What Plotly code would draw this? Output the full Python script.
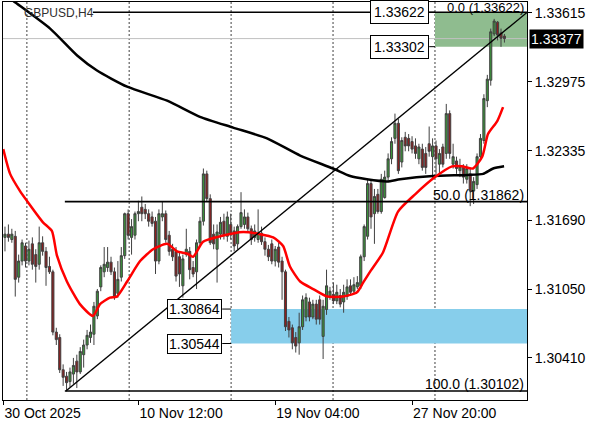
import plotly.graph_objects as go

# ---------------- data ----------------
bars = list(range(147))

opens = [1.3153,1.3156,1.3151,1.3154,1.3116,1.3131,1.3145,1.3131,1.3147,1.3137,
         1.3128,1.3148,1.3140,1.3126,1.3121,1.3065,1.3060,1.3030,1.3024,1.3019,
         1.3026,1.3038,1.3028,1.3044,1.3053,1.3060,1.3063,1.3080,1.3107,1.3121,
         1.3125,1.3130,1.3121,1.3101,1.3116,1.3136,1.3175,1.3153,1.3155,1.3175,
         1.3181,1.3179,1.3175,1.3172,1.3168,1.3131,1.3172,1.3175,1.3155,1.3142,
         1.3140,1.3135,1.3108,1.3137,1.3140,1.3125,1.3121,1.3148,1.3168,1.3212,
         1.3189,1.3156,1.3142,1.3156,1.3168,1.3154,1.3165,1.3159,1.3147,1.3163,
         1.3165,1.3172,1.3161,1.3153,1.3151,1.3157,1.3149,1.3142,1.3147,1.3131,
         1.3144,1.3131,1.3121,1.3075,1.3069,1.3060,1.3055,1.3070,1.3079,1.3093,
         1.3079,1.3091,1.3095,1.3061,1.3086,1.3098,1.3100,1.3094,1.3099,1.3093,
         1.3098,1.3108,1.3103,1.3107,1.3108,1.3135,1.3154,1.3203,1.3175,1.3193,
         1.3177,1.3190,1.3209,1.3226,1.3245,1.3259,1.3223,1.3246,1.3245,1.3242,
         1.3238,1.3226,1.3235,1.3231,1.3240,1.3228,1.3238,1.3221,1.3237,1.3231,
         1.3268,1.3221,1.3224,1.3215,1.3218,1.3207,1.3212,1.3196,1.3202,1.3228,
         1.3243,1.3280,1.3299,1.3342,1.3353,1.3343,1.3340]

highs = [1.3163,1.3165,1.3161,1.3159,1.3137,1.3151,1.3148,1.3150,1.3153,1.3142,
         1.3163,1.3154,1.3144,1.3135,1.3123,1.3069,1.3063,1.3035,1.3028,1.3032,
         1.3041,1.3044,1.3051,1.3058,1.3067,1.3072,1.3093,1.3105,1.3127,1.3144,
         1.3144,1.3135,1.3125,1.3131,1.3144,1.3176,1.3179,1.3170,1.3177,1.3187,
         1.3191,1.3184,1.3179,1.3177,1.3172,1.3179,1.3186,1.3178,1.3159,1.3147,
         1.3144,1.3140,1.3137,1.3161,1.3144,1.3131,1.3151,1.3172,1.3217,1.3215,
         1.3193,1.3165,1.3165,1.3172,1.3175,1.3177,1.3175,1.3163,1.3165,1.3195,
         1.3179,1.3176,1.3164,1.3165,1.3179,1.3163,1.3153,1.3146,1.3151,1.3145,
         1.3148,1.3135,1.3123,1.3079,1.3072,1.3065,1.3083,1.3099,1.3101,1.3097,
         1.3095,1.3095,1.3099,1.3095,1.3123,1.3107,1.3111,1.3109,1.3105,1.3109,
         1.3114,1.3114,1.3116,1.3117,1.3137,1.3165,1.3207,1.3207,1.3198,1.3198,
         1.3212,1.3215,1.3231,1.3246,1.3268,1.3263,1.3246,1.3251,1.3249,1.3247,
         1.3245,1.3240,1.3240,1.3237,1.3256,1.3245,1.3243,1.3235,1.3240,1.3277,
         1.3271,1.3240,1.3228,1.3226,1.3221,1.3221,1.3217,1.3209,1.3231,1.3249,
         1.3286,1.3304,1.3347,1.3356,1.3354,1.3347,1.3342]

lows = [1.3140,1.3149,1.3148,1.3098,1.3111,1.3127,1.3125,1.3127,1.3123,1.3111,
        1.3123,1.3136,1.3108,1.3119,1.3062,1.3053,1.3027,1.3015,1.30102,1.3014,
        1.3017,1.3013,1.3026,1.3032,1.3049,1.3055,1.3053,1.3077,1.3103,1.3116,
        1.3121,1.3118,1.3095,1.3097,1.3112,1.3133,1.3151,1.3137,1.3151,1.3168,
        1.3168,1.3170,1.3163,1.3163,1.3119,1.3128,1.3168,1.3148,1.3136,1.3131,
        1.3112,1.3107,1.3097,1.3135,1.3114,1.3116,1.3105,1.3144,1.3164,1.3186,
        1.3146,1.3142,1.3111,1.3151,1.3151,1.3149,1.3151,1.3140,1.3142,1.3161,
        1.3161,1.3158,1.3146,1.3149,1.3148,1.3146,1.3136,1.3131,1.3128,1.3126,
        1.3125,1.3095,1.3066,1.3060,1.3049,1.3046,1.3044,1.3067,1.3075,1.3075,
        1.3077,1.3072,1.3072,1.3040,1.3081,1.3095,1.3091,1.3091,1.3088,1.3083,
        1.3095,1.3099,1.3100,1.3105,1.3105,1.3131,1.3151,1.3161,1.3147,1.3175,
        1.3175,1.3189,1.3205,1.3221,1.3240,1.3212,1.3218,1.3233,1.3233,1.3231,
        1.3226,1.3221,1.3215,1.3212,1.3228,1.3207,1.3212,1.3210,1.3218,1.3226,
        1.3226,1.3217,1.3212,1.3209,1.3203,1.3203,1.3182,1.3184,1.3198,1.3224,
        1.3240,1.3274,1.3294,1.3340,1.3336,1.3330,1.3334]

closes = [1.3156,1.3153,1.3156,1.3114,1.3131,1.3148,1.3131,1.3142,1.3128,1.3126,
          1.3148,1.3140,1.3125,1.3121,1.3065,1.3058,1.3030,1.3023,1.3018,1.3028,
          1.3034,1.3028,1.3047,1.3053,1.3062,1.3065,1.3089,1.3103,1.3125,1.3128,
          1.3130,1.3121,1.3098,1.3114,1.3136,1.3175,1.3155,1.3163,1.3175,1.3177,
          1.3175,1.3175,1.3168,1.3166,1.3131,1.3175,1.3175,1.3151,1.3140,1.3135,
          1.3117,1.3119,1.3133,1.3142,1.3123,1.3119,1.3148,1.3168,1.3212,1.3189,
          1.3148,1.3147,1.3158,1.3167,1.3155,1.3172,1.3156,1.3145,1.3163,1.3176,
          1.3172,1.3161,1.3151,1.3159,1.3157,1.3149,1.3142,1.3135,1.3131,1.3142,
          1.3130,1.3121,1.3070,1.3067,1.3055,1.3052,1.3070,1.3095,1.3097,1.3079,
          1.3091,1.3077,1.3077,1.3089,1.3108,1.3103,1.3094,1.3102,1.3091,1.3102,
          1.3107,1.3102,1.3109,1.3111,1.3135,1.3163,1.3203,1.3172,1.3191,1.3177,
          1.3207,1.3209,1.3226,1.3242,1.3259,1.3215,1.3243,1.3238,1.3238,1.3235,
          1.3231,1.3237,1.3218,1.3218,1.3233,1.3238,1.3226,1.3231,1.3221,1.3268,
          1.3231,1.3228,1.3217,1.3219,1.3209,1.3217,1.3196,1.3205,1.3228,1.3245,
          1.3282,1.3300,1.3344,1.3354,1.3341,1.3338,1.33377]

# red (fast) moving average, read at these bar positions
ma_fast_x = [-0.5, 1.5, 4.4, 6.4, 11.1, 13.7, 15.2, 18.1, 21.9, 25.7, 27.8, 30.7, 32.7,
             35.7, 39.5, 43.3, 47.4, 50.3, 53.2, 55.0, 57.9, 62.9, 69.6, 74.6, 78.4,
             81.3, 83.3, 86.3, 90.1, 94.2, 98.8, 102.9, 104.7, 106.7, 110.5, 114.9,
             119.9, 125.7, 130.7, 133.6, 136.8, 139.5, 141.2, 143.9, 145.6]
ma_fast_y = [1.3235, 1.3212, 1.3196, 1.3187, 1.3167, 1.3159, 1.3136, 1.3112, 1.3091,
             1.3080, 1.3091, 1.3097, 1.3098, 1.3112, 1.3131, 1.3142, 1.3147, 1.3140,
             1.3138, 1.3135, 1.3149, 1.3154, 1.3158, 1.3156, 1.3153, 1.3145, 1.3126,
             1.3112, 1.3105, 1.3098, 1.3098, 1.3102, 1.3111, 1.3121, 1.3139, 1.3177,
             1.3193, 1.3209, 1.3219, 1.3219, 1.3217, 1.3228, 1.3249, 1.3261, 1.3274]

# black (slow) moving average
ma_slow_x = [-1.0, 2.3, 13.2, 21.1, 26.9, 35.7, 47.4, 57.0, 66.7, 76.6, 86.3, 95.9,
             100.9, 105.8, 111.7, 115.5, 125.1, 135.1, 139.8, 142.7, 145.9]
ma_slow_y = [1.3381, 1.3373, 1.3347, 1.3322, 1.3308, 1.3293, 1.3280, 1.3265, 1.3255,
             1.3245, 1.3229, 1.3217, 1.3210, 1.3207, 1.3205, 1.3207, 1.3210, 1.3211,
             1.3212, 1.3217, 1.3219]

# axis ticks
y_ticks = [1.33615, 1.32975, 1.32335, 1.31690, 1.31050, 1.30410]
x_tick_pos = [-0.45, 39, 79, 119]
x_tick_text = ["30 Oct 2025", "10 Nov 12:00", "19 Nov 04:00", "27 Nov 20:00"]
grid_pos = [6.4, 36.3, 66.1, 95.9, 125.7]

# drawn objects
fib_levels = [1.33622, 1.31862, 1.30102]
fib_names = ["0.0", "50.0", "100.0"]
fib_start = [25.7, 17.5, 17.5]
fib_label_shift = [-4, -2, -2]
fib_label_size = [13, 14, 14]
trend_x = [17.8, 152.6]
trend_y = [1.30102, 1.33620]
zone_low = [1.33302, 1.30544]
zone_high = [1.33622, 1.30864]
zone_start = [125.7, 66.1]
zone_colors = ["#8FBC8F", "#87CEEB"]
zone_label_x = [124.0, 63.5]
zone_label_pad = [3, 1]
bid = 1.33377

X_MIN, X_MAX = -0.58, 152.6
Y_MIN, Y_MAX = 1.30019, 1.33717
FONT = "Liberation Sans"

fig = go.Figure()

shapes = []
for g in grid_pos:
    shapes.append(dict(type="line", xref="x", yref="paper", x0=g, x1=g, y0=0, y1=1,
                       line=dict(color="#404040", width=1, dash="2px,2px"), layer="below"))
for lo, hi, xs, col in zip(zone_low, zone_high, zone_start, zone_colors):
    shapes.append(dict(type="rect", xref="x", yref="y", x0=xs, x1=X_MAX, y0=lo, y1=hi,
                       fillcolor=col, line=dict(width=0), layer="below"))
shapes.append(dict(type="line", xref="x", yref="y", x0=X_MIN, x1=X_MAX, y0=bid, y1=bid,
                   line=dict(color="#C0C0C0", width=1), layer="below"))

fig.add_trace(go.Candlestick(
    x=bars, open=opens, high=highs, low=lows, close=closes,
    increasing=dict(line=dict(color="#404040", width=1), fillcolor="#3A943A"),
    decreasing=dict(line=dict(color="#404040", width=1), fillcolor="#8B1E1E"),
    whiskerwidth=0, hoverinfo="skip", showlegend=False))

fig.add_trace(go.Scatter(x=ma_slow_x, y=ma_slow_y, mode="lines",
                         line=dict(color="#000000", width=2.5, shape="spline", smoothing=0.6),
                         hoverinfo="skip", showlegend=False))
fig.add_trace(go.Scatter(x=ma_fast_x, y=ma_fast_y, mode="lines",
                         line=dict(color="#FF0000", width=2.5, shape="spline", smoothing=0.6),
                         hoverinfo="skip", showlegend=False))
fig.add_trace(go.Scatter(x=trend_x, y=trend_y, mode="lines",
                         line=dict(color="#000000", width=1.4),
                         hoverinfo="skip", showlegend=False))

for lv, xs in zip(fib_levels, fib_start):
    shapes.append(dict(type="line", xref="x", yref="y", x0=xs, x1=X_MAX, y0=lv, y1=lv,
                       line=dict(color="#000000", width=1.6)))

annotations = []
for lv, nm, ys, fs in zip(fib_levels, fib_names, fib_label_shift, fib_label_size):
    annotations.append(dict(xref="paper", yref="y", x=1, y=lv, xshift=-2, yshift=ys,
                            xanchor="right", yanchor="bottom", showarrow=False,
                            text=f"{nm} ({lv:.5f})", borderpad=0,
                            font=dict(family=FONT, size=fs, color="#000000")))

# price labels on the zones
for lo, hi, lx, xs, pad in zip(zone_low, zone_high, zone_label_x, zone_start, zone_label_pad):
    for lv in (hi, lo):
        shapes.append(dict(type="line", xref="x", yref="y", x0=lx, x1=xs, y0=lv, y1=lv,
                           line=dict(color="#000000", width=1)))
        annotations.append(dict(xref="x", yref="y", x=lx, y=lv, xanchor="right",
                                yanchor="middle", showarrow=False, text=f"{lv:.5f}",
                                bgcolor="#FFFFFF", bordercolor="#000000", borderwidth=1,
                                borderpad=pad,
                                font=dict(family=FONT, size=14, color="#000000")))

annotations.append(dict(xref="paper", yref="paper", x=(22 - 3) / 524, y=(400 - 13) / 398,
                        xanchor="left", yanchor="middle", showarrow=False,
                        text="GBPUSD,H4", font=dict(family=FONT, size=12, color="#303030")))
annotations.append(dict(xref="paper", yref="y", x=1, y=bid, xshift=2, xanchor="left",
                        yanchor="middle", showarrow=False, text=f"{bid:.5f}",
                        bgcolor="#000000", borderpad=1,
                        font=dict(family=FONT, size=14, color="#FFFFFF")))

fig.update_layout(
    width=596, height=425,
    margin=dict(l=3, r=69, t=2, b=25),
    paper_bgcolor="#FFFFFF", plot_bgcolor="#FFFFFF",
    showlegend=False, boxgap=0.12,
    shapes=shapes, annotations=annotations,
    font=dict(family=FONT, size=14, color="#000000"),
    xaxis=dict(range=[X_MIN, X_MAX], rangeslider=dict(visible=False),
               showgrid=False, zeroline=False,
               showline=True, mirror=True, linecolor="#000000", linewidth=1,
               tickmode="array", tickvals=x_tick_pos, ticktext=x_tick_text,
               ticks="outside", ticklen=4, tickcolor="#000000",
               ticklabelposition="outside right",
               tickfont=dict(family=FONT, size=14, color="#000000")),
    yaxis=dict(range=[Y_MIN, Y_MAX], side="right",
               showgrid=False, zeroline=False,
               showline=True, mirror=True, linecolor="#000000", linewidth=1,
               tickmode="array", tickvals=y_ticks, ticktext=[f"{v:.5f}" for v in y_ticks],
               ticks="outside", ticklen=4, tickcolor="#000000",
               tickfont=dict(family=FONT, size=14, color="#000000")),
)

fig.write_html("out.html", config={"displayModeBar": False},
               post_script="document.body.style.margin='0';document.body.style.padding='0';")
